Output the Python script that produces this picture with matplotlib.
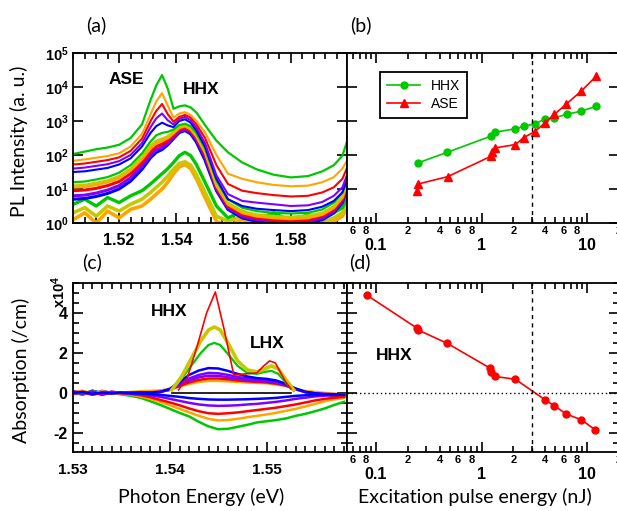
import matplotlib
matplotlib.use("Agg")
import matplotlib.pyplot as plt
import numpy as np
from matplotlib.ticker import FixedLocator, FuncFormatter, MultipleLocator, NullLocator, NullFormatter

plt.rcParams.update({
    'font.family': 'Liberation Sans',
    'font.weight': 'bold',
    'mathtext.fontset': 'custom',
    'mathtext.rm': 'Liberation Sans',
    'mathtext.bf': 'Liberation Sans:bold',
    'axes.linewidth': 1.3,
})

W, H = 617, 511
LABEL_FONT = 'Lato'

GREEN = '#00c800'
ORANGE = '#ffa500'
RED = '#ff0000'
PURPLE = '#8000ff'
BLUE = '#0000ff'
YELLOW = '#c8c800'

# ---- (a) PL spectra, log10 of intensity ----
E_a = [1.504, 1.508, 1.512, 1.516, 1.520, 1.524, 1.528, 1.531, 1.533, 1.535, 1.537, 1.539, 1.541, 1.543,
       1.545, 1.547, 1.550, 1.554, 1.558, 1.563, 1.568, 1.574, 1.580, 1.586, 1.591, 1.595, 1.598, 1.600]
pl_green1 = [2.03, 2.1, 2.17, 2.22, 2.3, 2.5, 2.9, 3.62, 4.05, 4.35, 3.95, 3.36, 3.43, 3.46,
             3.4, 3.25, 2.88, 2.42, 2.08, 1.78, 1.58, 1.42, 1.34, 1.38, 1.52, 1.7, 1.98, 2.5]
pl_orange1 = [1.83, 1.87, 1.92, 1.97, 2.05, 2.25, 2.62, 3.2, 3.58, 3.82, 3.45, 3.1, 3.22, 3.26,
              3.18, 3.0, 2.67, 2.0, 1.45, 1.3, 1.2, 1.12, 1.08, 1.1, 1.2, 1.35, 1.6, 1.9]
pl_red1 = [1.72, 1.75, 1.8, 1.85, 1.93, 2.12, 2.48, 3.0, 3.3, 3.5, 3.2, 2.98, 3.12, 3.18,
           3.1, 2.9, 2.5, 1.7, 1.15, 0.95, 0.88, 0.82, 0.78, 0.8, 0.9, 1.05, 1.3, 1.7]
pl_purple1 = [1.6, 1.63, 1.68, 1.73, 1.82, 2.0, 2.35, 2.82, 3.08, 3.22, 3.02, 2.9, 3.06, 3.12,
              3.02, 2.8, 2.35, 1.4, 0.85, 0.65, 0.6, 0.55, 0.5, 0.52, 0.62, 0.8, 1.05, 1.5]
pl_blue1 = [1.5, 1.52, 1.57, 1.62, 1.72, 1.9, 2.25, 2.65, 2.85, 2.95, 2.87, 2.82, 3.0, 3.05,
            2.95, 2.72, 2.25, 1.3, 0.7, 0.5, 0.42, 0.38, 0.35, 0.38, 0.48, 0.65, 0.9, 1.35]
pl_green2 = [1.2, 1.22, 1.28, 1.35, 1.48, 1.7, 2.05, 2.4, 2.58, 2.65, 2.68, 2.75, 2.88, 2.92,
             2.85, 2.65, 2.2, 1.25, 0.7, 0.45, 0.35, 0.3, 0.28, 0.3, 0.4, 0.6, 0.9, 1.4]
pl_yellow2 = [1.1, 1.12, 1.18, 1.25, 1.38, 1.6, 1.95, 2.28, 2.42, 2.48, 2.55, 2.68, 2.84, 2.88,
              2.8, 2.58, 2.12, 1.15, 0.6, 0.35, 0.25, 0.2, 0.18, 0.22, 0.3, 0.5, 0.8, 1.3]
pl_orange2 = [1.05, 1.07, 1.12, 1.2, 1.32, 1.55, 1.88, 2.2, 2.35, 2.42, 2.5, 2.64, 2.8, 2.85,
              2.76, 2.55, 2.08, 1.1, 0.55, 0.3, 0.2, 0.15, 0.12, 0.15, 0.25, 0.45, 0.75, 1.25]
pl_red2 = [0.95, 0.97, 1.02, 1.1, 1.22, 1.45, 1.78, 2.1, 2.25, 2.32, 2.42, 2.58, 2.75, 2.8,
           2.72, 2.5, 2.02, 1.05, 0.5, 0.25, 0.15, 0.1, 0.08, 0.1, 0.2, 0.4, 0.7, 1.2]
pl_purple2 = [0.8, 0.82, 0.88, 0.97, 1.1, 1.33, 1.68, 2.0, 2.15, 2.23, 2.35, 2.52, 2.7, 2.76,
              2.68, 2.45, 1.95, 1.0, 0.45, 0.2, 0.1, 0.05, 0.02, 0.05, 0.15, 0.35, 0.65, 1.15]
pl_blue2 = [0.7, 0.72, 0.78, 0.87, 1.0, 1.23, 1.58, 1.92, 2.08, 2.16, 2.3, 2.48, 2.66, 2.72,
            2.62, 2.38, 1.85, 0.95, 0.4, 0.15, 0.05, 0.0, -0.02, 0.0, 0.1, 0.3, 0.6, 1.1]
pl_green3 = [0.55, 0.7, 0.5, 0.75, 0.6, 0.8, 0.95, 1.15, 1.3, 1.45, 1.6, 1.78, 1.98, 2.08,
             1.98, 1.72, 1.2, 0.5, 0.15, 0.35, 0.1, 0.3, 0.05, 0.25, 0.1, 0.3, 0.45, 0.8]
pl_yellow3 = [0.3, 0.45, 0.2, 0.5, 0.35, 0.55, 0.7, 0.9, 1.05, 1.2, 1.38, 1.58, 1.75, 1.8,
              1.7, 1.42, 0.9, 0.2, 0.05, 0.2, 0.0, 0.15, 0.05, 0.2, 0.0, 0.15, 0.3, 0.6]
pl_orange3 = [0.1, 0.3, 0.0, 0.35, 0.15, 0.4, 0.5, 0.7, 0.85, 1.0, 1.2, 1.45, 1.65, 1.72,
              1.6, 1.3, 0.75, 0.05, -0.1, 0.1, -0.1, 0.05, -0.1, 0.1, -0.1, 0.05, 0.2, 0.5]

# ---- (b) pulse energy dependence ----
hhx_energy = [0.248, 0.473, 1.22, 1.35, 2.09, 2.5, 3.19, 4.0, 4.9, 6.4, 8.8, 12.2]
hhx_pl = [58, 120, 357, 470, 590, 690, 830, 1140, 1250, 1570, 1960, 2700]
ase_energy = [0.243, 0.25, 0.476, 1.22, 1.25, 1.35, 2.09, 2.5, 3.19, 4.0, 4.9, 6.3, 8.8, 12.2]
ase_pl = [8.5, 14, 23, 91, 120, 162, 203, 323, 490, 890, 1570, 3100, 7600, 21000]
threshold = 3.0

# ---- (c) differential absorption (x10^4 /cm) ----
E_c = [1.530, 1.531, 1.532, 1.533, 1.534, 1.535, 1.536, 1.537, 1.538, 1.539, 1.540, 1.541, 1.542, 1.543,
       1.544, 1.545, 1.546, 1.547, 1.548, 1.549, 1.550, 1.551, 1.552, 1.553, 1.554, 1.555, 1.556, 1.557, 1.558]
abs_green_neg = [0.05, -0.1, 0.12, -0.05, 0.0, -0.08, -0.15, -0.25, -0.42, -0.6, -0.8, -1.0, -1.18, -1.45,
                 -1.68, -1.82, -1.8, -1.7, -1.6, -1.48, -1.42, -1.36, -1.28, -1.15, -1.05, -0.92, -0.78, -0.6, -0.45]
abs_orange_neg = [0.0, 0.1, -0.05, 0.08, -0.02, -0.05, -0.1, -0.18, -0.3, -0.45, -0.62, -0.8, -0.98, -1.15,
                  -1.3, -1.38, -1.36, -1.3, -1.22, -1.15, -1.08, -1.0, -0.9, -0.8, -0.68, -0.55, -0.42, -0.32, -0.25]
abs_red_neg = [-0.05, 0.05, -0.1, 0.0, 0.05, -0.02, -0.06, -0.12, -0.22, -0.35, -0.48, -0.62, -0.78, -0.92,
               -1.02, -1.05, -1.02, -0.98, -0.92, -0.86, -0.8, -0.74, -0.66, -0.58, -0.48, -0.38, -0.3, -0.24, -0.2]
abs_purple_neg = [0.05, -0.05, 0.08, -0.1, 0.02, 0.0, -0.03, -0.06, -0.12, -0.2, -0.3, -0.4, -0.5, -0.58,
                  -0.63, -0.65, -0.64, -0.62, -0.58, -0.55, -0.5, -0.45, -0.38, -0.3, -0.24, -0.18, -0.14, -0.1, -0.08]
abs_blue_neg = [0.0, 0.05, -0.05, 0.02, -0.03, 0.0, -0.02, -0.03, -0.06, -0.1, -0.15, -0.2, -0.26, -0.3,
                -0.33, -0.34, -0.34, -0.33, -0.32, -0.3, -0.28, -0.25, -0.2, -0.15, -0.12, -0.1, -0.08, -0.08, -0.1]
abs_blue_pos = [0.05, -0.05, 0.1, 0.0, 0.03, -0.02, 0.0, 0.02, 0.0, 0.05, 0.2, 0.55, 0.9, 1.12,
                1.24, 1.22, 1.1, 0.95, 0.82, 0.74, 0.7, 0.62, 0.45, 0.22, 0.05, -0.02, -0.08, -0.12, -0.15]
abs_purple_pos = [0.08, 0.0, -0.08, 0.1, 0.0, 0.03, -0.03, 0.0, 0.0, 0.04, 0.18, 0.45, 0.72, 0.9,
                  1.0, 0.98, 0.9, 0.8, 0.72, 0.66, 0.62, 0.55, 0.4, 0.2, 0.04, -0.03, -0.06, -0.08, -0.1]
abs_violet_pos = [-0.05, 0.05, 0.0, -0.08, 0.06, 0.0, 0.02, 0.0, 0.02, 0.05, 0.15, 0.4, 0.62, 0.78,
                  0.86, 0.85, 0.78, 0.7, 0.65, 0.6, 0.57, 0.5, 0.38, 0.18, 0.03, -0.02, -0.05, -0.06, -0.08]
abs_red_pos = [0.0, -0.08, 0.05, 0.02, -0.05, 0.0, 0.0, 0.02, 0.03, 0.06, 0.15, 0.35, 0.52, 0.65,
               0.72, 0.72, 0.68, 0.62, 0.58, 0.55, 0.52, 0.46, 0.36, 0.18, 0.05, -0.05, -0.1, -0.15, -0.18]
abs_orange_pos = [0.05, 0.1, -0.05, 0.06, 0.0, 0.02, 0.05, 0.08, 0.1, 0.12, 0.2, 0.32, 0.45, 0.55,
                  0.6, 0.6, 0.58, 0.55, 0.52, 0.5, 0.48, 0.42, 0.34, 0.2, 0.1, 0.05, 0.0, -0.05, -0.08]

E_red_peak = [1.5409, 1.5418, 1.5428, 1.5438, 1.5447, 1.5456, 1.5466, 1.5478, 1.5490, 1.5497, 1.5503, 1.5509,
              1.5519, 1.5525]
abs_red_peak = [0.15, 0.75, 2.3, 4.0, 5.05, 3.2, 0.9, 0.95, 1.0, 1.35, 1.6, 1.5, 0.6, 0.2]
E_low_peak = [1.5402, 1.5412, 1.5422, 1.5432, 1.5440, 1.5446, 1.5452, 1.5460, 1.5470, 1.5480, 1.5490, 1.5498,
              1.5505, 1.5512, 1.5520, 1.5528]
abs_yellow_peak = [0.15, 0.8, 1.7, 2.6, 3.15, 3.3, 3.15, 2.5, 1.6, 1.15, 1.05, 1.2, 1.35, 1.2, 0.65, 0.15]
abs_green_peak = [0.15, 0.7, 1.35, 2.0, 2.4, 2.5, 2.4, 1.95, 1.35, 1.0, 0.95, 1.05, 1.1, 0.95, 0.5, 0.1]
E_zero = [1.5402, 1.5525]
abs_zero = [0.0, 0.0]

# ---- (d) HHX absorption vs pulse energy ----
d_energy = [0.0816, 0.243, 0.25, 0.473, 1.21, 1.22, 1.35, 2.09, 4.0, 4.9, 6.3, 8.8, 11.9]
d_abs = [4.9, 3.25, 3.15, 2.48, 1.23, 1.05, 0.82, 0.68, -0.35, -0.65, -1.05, -1.35, -1.85]


def fpos(x, y):
    return x / W, 1 - y / H


def axes_rect(x0, y0, x1, y1):
    return [x0 / W, 1 - y1 / H, (x1 - x0) / W, (y1 - y0) / H]


def style_ticks(ax):
    ax.tick_params(which='both', direction='in', top=True, right=True, width=1.2)
    ax.tick_params(which='major', length=7)
    ax.tick_params(which='minor', length=4)


def log_energy_axis(ax):
    ax.set_xscale('log')
    ax.set_xlim(0.0532, 20)
    ax.xaxis.set_major_locator(FixedLocator([0.1, 1, 10]))
    minors = [m * 10.0 ** k for k in (-2, -1, 0, 1) for m in range(2, 10)]
    ax.xaxis.set_minor_locator(FixedLocator(minors))
    ax.xaxis.set_major_formatter(FuncFormatter(lambda v, p: '%g' % v))

    def minor_fmt(v, p):
        m = int(round(v / 10 ** np.floor(np.log10(v) + 1e-9)))
        return str(m) if m in (2, 4, 6, 8) else ''
    ax.xaxis.set_minor_formatter(FuncFormatter(minor_fmt))
    ax.tick_params(axis='x', which='major', labelsize=11.5, pad=11)
    ax.tick_params(axis='x', which='minor', labelsize=8, pad=2)


def plot_a(ax):
    curves = [
        (pl_orange3, ORANGE, 2.6), (pl_yellow3, YELLOW, 2.6), (pl_green3, GREEN, 2.4),
        (pl_blue2, BLUE, 2.2), (pl_purple2, PURPLE, 2.2), (pl_red2, RED, 2.2),
        (pl_orange2, ORANGE, 2.0), (pl_yellow2, YELLOW, 1.8), (pl_green2, GREEN, 1.6),
        (pl_blue1, BLUE, 1.5), (pl_purple1, PURPLE, 1.5), (pl_red1, RED, 1.5),
        (pl_orange1, ORANGE, 1.5), (pl_green1, GREEN, 1.6),
    ]
    for vals, col, lw in curves:
        ax.plot(E_a, 10 ** np.array(vals), color=col, lw=lw)
    ax.set_yscale('log')
    ax.set_ylim(1, 1e5)
    ax.set_xlim(1.5039, 1.5996)
    ax.yaxis.set_major_locator(FixedLocator([10.0 ** k for k in range(6)]))
    ax.yaxis.set_major_formatter(FuncFormatter(lambda v, p: r'$\mathbf{10^{%d}}$' % round(np.log10(v))))
    ax.yaxis.set_minor_locator(NullLocator())
    ax.xaxis.set_major_locator(FixedLocator([1.52, 1.54, 1.56, 1.58]))
    ax.xaxis.set_minor_locator(MultipleLocator(0.004))
    ax.xaxis.set_major_formatter(FuncFormatter(lambda v, p: '%.2f' % v))
    style_ticks(ax)
    ax.tick_params(axis='x', labelsize=11.5, pad=7)
    ax.tick_params(axis='y', labelsize=10.5, pad=3)


def plot_b(ax):
    ax.plot(hhx_energy, hhx_pl, color=GREEN, marker='o', ms=5, lw=1.2, label='HHX')
    ax.plot(ase_energy, ase_pl, color=RED, marker='^', ms=5.5, lw=1.2, label='ASE')
    ax.axvline(threshold, color='k', lw=1, ls=(0, (3, 3)))
    ax.set_yscale('log')
    ax.set_ylim(1, 1e5)
    ax.yaxis.set_major_locator(FixedLocator([10.0 ** k for k in range(6)]))
    ax.yaxis.set_minor_locator(NullLocator())
    ax.yaxis.set_major_formatter(NullFormatter())
    log_energy_axis(ax)
    style_ticks(ax)
    leg = ax.legend(loc='upper left', bbox_to_anchor=(0.121, 0.888), borderaxespad=0,
                    fancybox=False, edgecolor='k', framealpha=1, handlelength=2.4,
                    prop={'family': 'Liberation Sans', 'weight': 'normal', 'size': 10},
                    borderpad=0.5, labelspacing=0.3)
    leg.get_frame().set_linewidth(1.3)


def plot_c(ax):
    for vals, col in [(abs_orange_pos, ORANGE), (abs_red_pos, RED), (abs_violet_pos, PURPLE),
                      (abs_purple_pos, PURPLE), (abs_blue_pos, BLUE)]:
        ax.plot(E_c, vals, color=col, lw=1.8)
    for vals, col in [(abs_green_neg, GREEN), (abs_orange_neg, ORANGE), (abs_red_neg, RED),
                      (abs_purple_neg, PURPLE), (abs_blue_neg, BLUE)]:
        ax.plot(E_c, vals, color=col, lw=1.8)
    ax.plot(E_zero, abs_zero, color='k', lw=1.2)
    ax.plot(E_low_peak, abs_green_peak, color=GREEN, lw=1.6)
    ax.plot(E_low_peak, abs_yellow_peak, color=YELLOW, lw=2.6)
    ax.plot(E_red_peak, abs_red_peak, color=RED, lw=1.2)
    ax.set_xlim(1.53, 1.5583)
    ax.set_ylim(-2.96, 5.5)
    ax.xaxis.set_major_locator(FixedLocator([1.53, 1.54, 1.55]))
    ax.xaxis.set_minor_locator(MultipleLocator(0.001))
    ax.xaxis.set_major_formatter(FuncFormatter(lambda v, p: '%.2f' % v))
    ax.yaxis.set_major_locator(FixedLocator([-2, 0, 2, 4]))
    ax.yaxis.set_minor_locator(MultipleLocator(0.5))
    ax.yaxis.set_major_formatter(FuncFormatter(lambda v, p: '%d' % v))
    style_ticks(ax)
    ax.tick_params(axis='x', labelsize=11, pad=8)
    ax.tick_params(axis='y', labelsize=11.5, pad=4)


def plot_d(ax):
    ax.plot(d_energy, d_abs, color=RED, marker='o', ms=5, lw=1.2)
    ax.axvline(threshold, color='k', lw=1, ls=(0, (3, 3)))
    ax.axhline(0, color='k', lw=1, ls=(0, (1, 2)))
    ax.set_ylim(-2.96, 5.5)
    ax.yaxis.set_major_locator(FixedLocator([-2, 0, 2, 4]))
    ax.yaxis.set_minor_locator(MultipleLocator(0.5))
    ax.yaxis.set_major_formatter(NullFormatter())
    log_energy_axis(ax)
    style_ticks(ax)


def main():
    fig = plt.figure(figsize=(W / 100, H / 100), dpi=100)
    ax_a = fig.add_axes(axes_rect(73, 53, 347, 223))
    ax_b = fig.add_axes(axes_rect(347, 53, 619, 223))
    ax_c = fig.add_axes(axes_rect(73, 283, 347, 452))
    ax_d = fig.add_axes(axes_rect(347, 283, 619, 452))

    plot_a(ax_a)
    plot_b(ax_b)
    plot_c(ax_c)
    plot_d(ax_d)

    label_kw = dict(family=LABEL_FONT, weight='normal', fontsize=14, ha='center', va='center')
    fig.text(*fpos(19, 141), 'PL Intensity (a. u.)', rotation=90, **label_kw)
    fig.text(*fpos(21, 370), 'Absorption (/cm)', rotation=90, **label_kw)
    fig.text(*fpos(201, 497), 'Photon Energy (eV)', **label_kw)
    fig.text(*fpos(475, 497), 'Excitation pulse energy (nJ)', **label_kw)

    panel_kw = dict(family=LABEL_FONT, weight='normal', fontsize=14, ha='center', va='center')
    fig.text(*fpos(96, 25), '(a)', **panel_kw)
    fig.text(*fpos(361, 25), '(b)', **panel_kw)
    fig.text(*fpos(92, 262), '(c)', **panel_kw)
    fig.text(*fpos(360, 262), '(d)', **panel_kw)

    note_kw = dict(weight='bold', fontsize=12.5, ha='center', va='center')
    fig.text(*fpos(126, 79), 'ASE', **note_kw)
    fig.text(*fpos(201, 89), 'HHX', **note_kw)
    fig.text(*fpos(169, 312), 'HHX', **note_kw)
    fig.text(*fpos(267, 344), 'LHX', **note_kw)
    fig.text(*fpos(394, 356), 'HHX', **note_kw)
    fig.text(*fpos(59, 292), r'$\mathbf{x10^{4}}$', rotation=90, fontsize=10.5, ha='center', va='center')

    fig.savefig('out.png', dpi=100)


if __name__ == "__main__":
    main()
